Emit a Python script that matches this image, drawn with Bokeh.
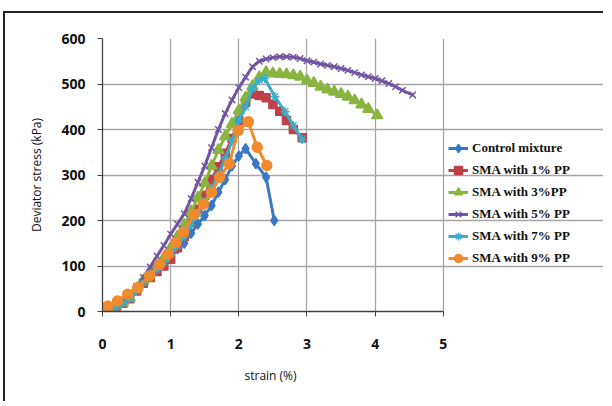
from bokeh.plotting import figure
from bokeh.models import Legend, LegendItem, FixedTicker, Title
from bokeh.embed import file_html
from bokeh.resources import INLINE

# ---- data (strain %, deviator stress kPa) ----
ctrl_x = [0, 0.1, 0.2, 0.3, 0.4, 0.5, 0.6, 0.7, 0.8, 0.9, 1.0, 1.1, 1.2, 1.3, 1.4, 1.5, 1.6, 1.7, 1.8, 1.9, 2.0, 2.1, 2.25, 2.4, 2.52]
ctrl_y = [0, 5, 12, 20, 30, 48, 65, 80, 95, 110, 125, 138, 150, 172, 192, 211, 233, 262, 290, 320, 342, 358, 325, 295, 200]

pp1_x = [0, 0.1, 0.2, 0.3, 0.4, 0.5, 0.6, 0.7, 0.8, 0.9, 1.0, 1.1, 1.2, 1.3, 1.4, 1.5, 1.6, 1.7, 1.8, 1.9, 2.0, 2.1, 2.2, 2.3, 2.4, 2.5, 2.6, 2.7, 2.8, 2.93]
pp1_y = [0, 5, 10, 18, 28, 45, 62, 75, 88, 100, 115, 140, 165, 195, 225, 255, 290, 318, 348, 380, 420, 460, 478, 475, 470, 455, 440, 420, 400, 382]

pp3_x = [0, 0.1, 0.2, 0.3, 0.4, 0.5, 0.6, 0.7, 0.8, 0.9, 1.0, 1.1, 1.2, 1.3, 1.4, 1.5, 1.6, 1.7, 1.8, 1.9, 2.0, 2.1, 2.2, 2.3, 2.4, 2.5, 2.6, 2.7, 2.8, 2.9, 3.0, 3.1, 3.2, 3.3, 3.4, 3.5, 3.6, 3.7, 3.8, 3.9, 4.03]
pp3_y = [0, 5, 12, 20, 30, 50, 68, 85, 100, 118, 140, 165, 190, 220, 250, 282, 320, 355, 385, 412, 442, 470, 495, 515, 526, 523, 522, 521, 519, 516, 508, 502, 494, 488, 483, 478, 472, 464, 455, 445, 431]

pp5_x = [0, 0.1, 0.2, 0.3, 0.4, 0.5, 0.6, 0.7, 0.8, 0.9, 1.0, 1.1, 1.2, 1.3, 1.4, 1.5, 1.6, 1.7, 1.8, 1.9, 2.0, 2.1, 2.2, 2.3, 2.4, 2.5, 2.6, 2.7, 2.8, 2.9, 3.0, 3.1, 3.2, 3.3, 3.4, 3.5, 3.6, 3.7, 3.8, 3.9, 4.0, 4.1, 4.2, 4.3, 4.4, 4.55]
pp5_y = [0, 5, 12, 22, 35, 55, 75, 98, 122, 145, 170, 192, 215, 248, 284, 320, 360, 400, 435, 465, 492, 515, 538, 550, 555, 558, 560, 560, 559, 556, 551, 548, 544, 541, 538, 534, 530, 525, 520, 516, 512, 507, 501, 494, 486, 476]

pp7_x = [0, 0.1, 0.2, 0.3, 0.4, 0.5, 0.6, 0.7, 0.8, 0.9, 1.0, 1.1, 1.2, 1.3, 1.4, 1.5, 1.6, 1.7, 1.8, 1.9, 2.0, 2.1, 2.2, 2.3, 2.38, 2.53, 2.68, 2.8, 2.93]
pp7_y = [0, 5, 10, 18, 28, 45, 62, 78, 92, 108, 125, 145, 165, 190, 215, 240, 270, 300, 335, 375, 420, 450, 490, 508, 512, 472, 439, 409, 378]

pp9_x = [0, 0.08, 0.22, 0.37, 0.52, 0.69, 0.84, 0.96, 1.08, 1.19, 1.35, 1.48, 1.6, 1.72, 1.86, 1.99, 2.14, 2.27, 2.41]
pp9_y = [0, 12, 23, 38, 53, 78, 104, 126, 152, 174, 214, 236, 262, 295, 325, 398, 417, 361, 321]

names = ["Control mixture", "SMA with 1% PP", "SMA with 3%PP", "SMA with 5% PP", "SMA with 7% PP", "SMA with 9% PP"]
x_ticks = [0, 1, 2, 3, 4, 5]
y_ticks = [0, 100, 200, 300, 400, 500, 600]

series = [
    (ctrl_x, ctrl_y, "#3A77C4", "diamond", 10),
    (pp1_x, pp1_y, "#C0404A", "square", 8),
    (pp3_x, pp3_y, "#8AB440", "triangle", 11),
    (pp5_x, pp5_y, "#7155A2", "x", 9),
    (pp7_x, pp7_y, "#3AAEC8", "asterisk", 9),
    (pp9_x, pp9_y, "#F08A2E", "circle", 10),
]

# frame extends to the right so the legend (drawn inside the frame) is not clipped;
# grid and axis are bounded to 0..5 as in the original
p = figure(width=600, height=390, x_range=(0, 7.38), y_range=(0, 600),
           output_backend="svg", toolbar_location=None,
           min_border_left=97, min_border_right=0, min_border_top=25, min_border_bottom=92)
p.background_fill_color = "white"
p.border_fill_color = "white"
p.outline_line_color = None
p.styles = {"margin-top": "11px", "margin-left": "3px",
            "border-top": "2px solid #222222", "border-left": "2px solid #222222"}

p.xaxis.ticker = FixedTicker(ticks=x_ticks)
p.yaxis.ticker = FixedTicker(ticks=y_ticks)
p.ygrid.bounds = (0, 5)
p.xaxis.bounds = (0, 5)
for g in (p.xgrid, p.ygrid):
    g.grid_line_color = "#A6A6A6"
    g.grid_line_width = 1.3
for ax in (p.xaxis, p.yaxis):
    ax.axis_line_color = "#404040"
    ax.axis_line_width = 1.3
    ax.major_tick_line_color = "#404040"
    ax.major_tick_out = 5
    ax.major_tick_in = 0
    ax.minor_tick_line_color = None
    ax.major_label_text_font = "Open Sans"
    ax.major_label_text_font_style = "bold"
    ax.major_label_text_font_size = "14px"
    ax.major_label_text_color = "#111111"
    ax.axis_label_text_font = "Open Sans"
    ax.axis_label_text_font_style = "normal"
    ax.axis_label_text_font_size = "12px"
    ax.axis_label_text_color = "#111111"
p.xaxis.major_label_standoff = 22
p.yaxis.major_label_standoff = 12
p.yaxis.axis_label = "Deviator stress (kPa)"
p.yaxis.axis_label_standoff = 13

# x-axis title centred under the 0..5 axis (not under the whole frame)
xtitle = Title(text="strain (%)", align="left", offset=142, standoff=27,
               text_font="Open Sans", text_font_style="normal", text_font_size="12px",
               text_color="#111111")
p.add_layout(xtitle, "below")

items = []
for (xs, ys, col, mk, sz), nm in zip(series, names):
    r1 = p.line(xs, ys, line_color=col, line_width=3)
    r2 = p.scatter(xs, ys, marker=mk, size=sz, fill_color=col, line_color=col, line_width=1.5)
    items.append(LegendItem(label=nm, renderers=[r1, r2]))

legend = Legend(items=items, location=(346, 43))
legend.border_line_color = None
legend.background_fill_alpha = 0
legend.padding = 0
legend.margin = 0
legend.spacing = 2
legend.glyph_width = 20
legend.glyph_height = 20
legend.label_height = 20
legend.label_standoff = 4
legend.label_text_font = "Liberation Serif"
legend.label_text_font_style = "bold"
legend.label_text_font_size = "13px"
legend.label_text_color = "#111111"
p.add_layout(legend)

open("out.html", "w").write(file_html(p, INLINE))
